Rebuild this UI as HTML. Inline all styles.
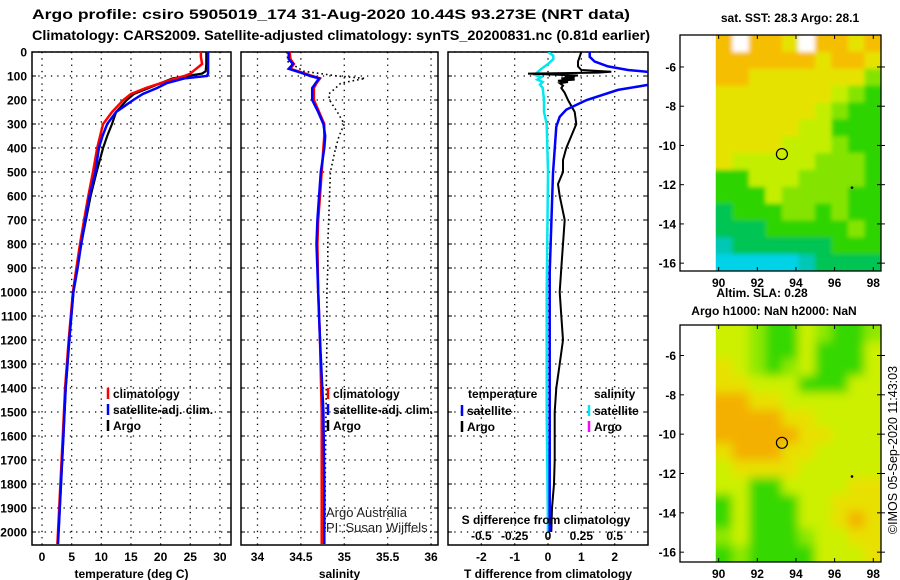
<!DOCTYPE html>
<html><head><meta charset="utf-8"><style>
html,body{margin:0;padding:0;background:#fff;}
svg{display:block;font-family:"Liberation Sans",Arial,sans-serif;}
.t{font-weight:bold;font-size:12px;fill:#000;}
.h{font-weight:bold;font-size:13.5px;fill:#000;}
</style></head><body>
<svg id="chart" width="900" height="580" viewBox="0 0 900 580" xmlns="http://www.w3.org/2000/svg">
<text class="h" x="32" y="19" textLength="598" lengthAdjust="spacingAndGlyphs">Argo profile: csiro 5905019_174 31-Aug-2020 10.44S 93.273E (NRT data)</text>
<text class="h" x="32" y="40" textLength="618" lengthAdjust="spacingAndGlyphs">Climatology: CARS2009. Satellite-adjusted climatology: synTS_20200831.nc (0.81d earlier)</text>
<g id="p1"></g>
<g id="p2"></g>
<g id="p3"></g>
<g id="m1"></g>
<g id="m2"></g>
<text class="t" x="790" y="22" text-anchor="middle">sat. SST: 28.3 Argo: 28.1</text>
<text class="t" x="762" y="297" text-anchor="middle">Altim. SLA: 0.28</text>
<text class="t" x="774" y="315" text-anchor="middle">Argo h1000: NaN h2000: NaN</text>
<text x="897" y="450" font-size="12.5" transform="rotate(-90 897 450)" text-anchor="middle">©IMOS 05-Sep-2020 11:43:03</text>
</svg>
<script>
// ---------- data ----------
const depthT = [0,20,50,80,90,100,110,130,150,175,200,250,300,350,400,500,600,700,800,900,1000,1200,1400,1600,1800,2000,2050];
const tempClim = [26.8,26.8,27.0,25.5,25.0,24.0,22.5,20.0,17.5,15.0,13.7,11.8,10.3,9.8,9.3,8.6,7.8,7.1,6.4,5.8,5.2,4.5,3.9,3.5,3.1,2.7,2.6];
const tempSat  = [28.0,28.0,28.0,28.0,28.0,27.8,24.0,21.0,19.4,17.0,15.4,12.5,11.0,10.2,9.6,9.0,8.0,7.3,6.6,6.0,5.3,4.6,4.0,3.6,3.2,2.8,2.7];
const depthArgoT = [0,20,50,80,90,100,110,130,150,175,200,250,300,350,400,500,600,700,800,900,1000,1200,1400,1600,1800,2000];
const tempArgo = [27.7,27.7,27.7,27.6,27.0,24.5,22.0,20.0,18.0,15.5,14.3,12.5,11.8,11.0,10.3,9.2,8.2,7.4,6.6,5.9,5.3,4.6,4.0,3.6,3.2,2.8];

const depthS = [0,30,50,70,90,100,110,130,150,200,250,300,350,400,500,600,700,800,1000,1200,1500,1800,2000,2050];
const salClim = [34.37,34.38,34.42,34.38,34.55,34.63,34.72,34.68,34.65,34.65,34.71,34.77,34.77,34.76,34.74,34.72,34.70,34.69,34.70,34.72,34.74,34.74,34.74,34.74];
const salSat  = [34.36,34.36,34.41,34.36,34.53,34.61,34.71,34.67,34.63,34.63,34.70,34.76,34.78,34.77,34.73,34.71,34.69,34.68,34.70,34.72,34.76,34.77,34.77,34.77];
const depthArgoS = [0,40,80,100,110,130,150,175,200,250,300,350,400,500,600,700,800,900,1000,1200,1500,1800,2000];
const salArgo = [34.34,34.35,34.53,34.92,35.24,34.96,34.90,34.82,34.83,34.92,35.0,34.94,34.90,34.84,34.83,34.82,34.81,34.81,34.80,34.80,34.79,34.78,34.78];

const depthDT = [0,20,40,60,75,82,86,90,94,98,102,106,110,115,120,125,130,140,150,170,200,250,300,350,400,450,500,550,600,700,800,900,1000,1100,1200,1300,1400,1500,1600,1700,1800,1900,2000];
const dTArgo = [1.0,0.95,0.9,0.9,1.0,1.9,1.5,-0.6,0.2,0.9,0.5,0.8,0.4,0.8,0.3,0.6,0.35,0.45,0.4,0.5,0.6,0.8,0.85,0.7,0.55,0.45,0.45,0.3,0.35,0.5,0.45,0.4,0.35,0.4,0.45,0.35,0.25,0.2,0.2,0.2,0.18,0.12,0.1];
const depthDTs = [0,20,40,60,75,83,90,110,137,158,200,240,270,311,505,920,1500,2000];
const dTSat = [1.25,1.25,1.4,1.8,2.4,3.0,3.6,3.8,3.0,2.1,1.16,0.55,0.35,0.25,0.15,0.05,0.05,0.05];
const depthDS = [0,15,30,50,70,85,95,105,115,125,135,150,200,250,300,500,1000,1500,2000];
const dSSat = [0.0,0.04,0.04,0.0,-0.05,-0.08,-0.1,-0.05,-0.08,-0.04,-0.06,-0.04,-0.03,-0.03,-0.01,0.0,-0.01,-0.01,0.0];

const depthTicks = [0,100,200,300,400,500,600,700,800,900,1000,1100,1200,1300,1400,1500,1600,1700,1800,1900,2000];
const tempTicks = [0,5,10,15,20,25,30];
const salTicks = [34,34.5,35,35.5,36];
const salTickLabels = ["34","34.5","35","35.5","36"];
const dTTicks = [-2,-1,0,1,2];
const dSTicks = [-0.5,-0.25,0,0.25,0.5];
const dSTickLabels = ["-0.5","-0.25","0","0.25","0.5"];

const lonTicks = [90,92,94,96,98];
const latTicks = [-6,-8,-10,-12,-14,-16];
const argoLon = 93.273, argoLat = -10.44;
// map colour grids (10 lon cols x 14 lat rows, north to south)
const sstGrid = ["owooywooyo","ooooooyooy","ooyyyyyyyg","yyyyyyylgG","yyyyyylgGG","yyyyyllGGG","yyyylllgGG","ylllllgggG","GGlllggggG","GGGlggggGG","dGGGggGgGG","dddGGGGGgG","tddddddGGG","ccccctdddd"];
const slaGrid = ["llgGGlgGGg","llgGGlGGGl","ylgGglGGGl","yylllGGGll","ooyylllll","ooooyyllll","oooooyylll","yoooyyllll","lyyyylllll","llGGllllyy","GlGGGllyyy","GlGGGllyoy","glGGGgllyy","GgGGGGllly"];
const sstColors = {o:"#f6be00",y:"#e6e200",l:"#c4ee00",g:"#84e400",G:"#2ed400",d:"#00c452",t:"#00c8b4",c:"#00d2e8",w:"#ffffff"};
const slaColors = {o:"#f4b000",y:"#e8e000",l:"#ccf000",g:"#8ee800",G:"#34d800"};

// ---------- helpers ----------
const NS="http://www.w3.org/2000/svg";
function mk(parent,tag,attrs){const e=document.createElementNS(NS,tag);for(const k in attrs)e.setAttribute(k,attrs[k]);parent.appendChild(e);return e;}
const Y0=52, Y1=545, DMAX=(Y1-Y0)/0.24;
function yD(d){return Y0+d/DMAX*(Y1-Y0);}
function makeX(x0,x1,vmin,vmax){return v=>x0+(v-vmin)/(vmax-vmin)*(x1-x0);}

function panelFrame(g,x0,x1,xs,ticks,labels,title,withDepthLabels){
  for(const v of ticks){
    const x=xs(v);
    const gl=mk(g,'line',{x1:x,y1:Y0,x2:x,y2:Y1,stroke:'#000','stroke-width':1.3,'stroke-dasharray':'1.3,5'});
    
    
  }
  for(const d of depthTicks){
    const y=yD(d);
    const gl=mk(g,'line',{x1:x0,y1:y,x2:x1,y2:y,stroke:'#000','stroke-width':1.3,'stroke-dasharray':'1.3,5'});
    
    
    mk(g,'line',{x1:x0,y1:y,x2:x0+4,y2:y,stroke:'#000','stroke-width':1});
    mk(g,'line',{x1:x1-4,y1:y,x2:x1,y2:y,stroke:'#000','stroke-width':1});
    if(withDepthLabels){
      const t=mk(g,'text',{x:x0-5,y:y+4.5,'text-anchor':'end',class:'t'});
      t.textContent=String(d);
      
      
    }
  }
  ticks.forEach((v,i)=>{
    const t=mk(g,'text',{x:xs(v),y:Y1+16,'text-anchor':'middle',class:'t'});
    t.textContent=labels[i];
    
    
  });
  if(title){
    const t=mk(g,'text',{x:(x0+x1)/2,y:Y1+33,'text-anchor':'middle',class:'t'});
    t.textContent=title;
    
    
  }
  const r=mk(g,'rect',{x:x0,y:Y0,width:x1-x0,height:Y1-Y0,fill:'none',stroke:'#000','stroke-width':1.5});
  
  
}
function series(g,xs,depths,vals,color,w,name,dash,clipId){
  let pts=depths.map((d,i)=>xs(vals[i]).toFixed(1)+','+yD(d).toFixed(1)).join(' ');
  const p=mk(g,'polyline',{points:pts,fill:'none',stroke:color,'stroke-width':w,'stroke-linejoin':'miter'});
  if(dash)p.setAttribute('stroke-dasharray',dash);
  if(clipId)p.setAttribute('clip-path','url(#'+clipId+')');
  
  
  return p;
}
function legendItem(g,x,y,color,label){
  const tk=mk(g,'line',{x1:x-5,y1:y-10,x2:x-5,y2:y+1,stroke:color,'stroke-width':2.5});
  
  
  const t=mk(g,'text',{x:x,y:y,class:'t'});
  t.textContent=label;
  
  
}
const svg=document.getElementById('chart');
const defs=mk(svg,'defs',{});
const cp=mk(defs,'clipPath',{id:'clip3'});
mk(cp,'rect',{x:448,y:Y0,width:200,height:Y1-Y0});

// ---------- panel 1 ----------
const g1=document.getElementById('p1');
const xT=makeX(32,231,-1.69,31.87);
panelFrame(g1,32,231,xT,tempTicks,tempTicks.map(String),'temperature (deg C)',true);
series(g1,xT,depthArgoT,tempArgo,'#000',2.2,'argo-temperature-line');
series(g1,xT,depthT,tempClim,'#f00',2.5,'climatology-temperature-line');
series(g1,xT,depthT,tempSat,'#00f',2.5,'satellite-temperature-line');
legendItem(g1,113,398,'#f00','climatology');
legendItem(g1,113,414,'#00f','satellite-adj. clim.');
legendItem(g1,113,430,'#000','Argo');

// ---------- panel 2 ----------
const g2=document.getElementById('p2');
const xS=makeX(241,438,33.81,36.08);
panelFrame(g2,241,438,xS,salTicks,salTickLabels,'salinity',false);
series(g2,xS,depthArgoS,salArgo,'#000',1.6,'argo-salinity-line','1.6,3');
series(g2,xS,depthS,salClim,'#f00',2.5,'climatology-salinity-line');
series(g2,xS,depthS,salSat,'#00f',2.5,'satellite-salinity-line');
legendItem(g2,333,398,'#f00','climatology');
legendItem(g2,333,414,'#00f','satellite-adj. clim.');
legendItem(g2,333,430,'#000','Argo');
{const t=mk(g2,'text',{x:326,y:517,'font-size':13,fill:'#222'});t.textContent='Argo Australia';


const t2=mk(g2,'text',{x:326,y:532,'font-size':13,fill:'#222'});t2.textContent='PI: Susan Wijffels';

}

// ---------- panel 3 ----------
const g3=document.getElementById('p3');
const xDT=makeX(448,648,-3.0,3.0);
const xDS=makeX(448,648,-0.75,0.75);
panelFrame(g3,448,648,xDT,dTTicks,dTTicks.map(String),'T difference from climatology',false);
series(g3,xDS,depthDS,dSSat,'#00e8f0',2.5,'satellite-salinity-diff-line',null,'clip3');
series(g3,xDT,depthDT,dTArgo,'#000',2,'argo-temperature-diff-line',null,'clip3');
series(g3,xDT,depthDTs,dTSat,'#00f',2.5,'satellite-temperature-diff-line',null,'clip3');
{const t=mk(g3,'text',{x:468,y:398,class:'t'});t.textContent='temperature';


const t2=mk(g3,'text',{x:594,y:398,class:'t'});t2.textContent='salinity';

}
legendItem(g3,467,415,'#00f','satellite');
legendItem(g3,467,431,'#000','Argo');
legendItem(g3,594,415,'#00e8f0','satellite');
legendItem(g3,594,431,'#f0f','Argo');
{const t=mk(g3,'text',{x:546,y:524,'text-anchor':'middle',class:'t'});t.textContent='S difference from climatology';


dSTicks.forEach((v,i)=>{const l=mk(g3,'text',{x:xDS(v),y:540,'text-anchor':'middle',class:'t'});l.textContent=dSTickLabels[i];

});}

// ---------- maps ----------
function drawMap(g,y0,y1,latTop,latBot,grid,colors,blur,id){
  const X0=680,X1=881,LON0=88.0,LON1=98.4;
  const xl=makeX(X0,X1,LON0,LON1);
  const yl=v=>y0+(latTop-v)/(latTop-latBot)*(y1-y0);
  const cpm=mk(defs,'clipPath',{id:'c'+id});
  const dx0=xl(89.85);
  mk(cpm,'rect',{x:dx0,y:y0,width:X1-dx0,height:y1-y0});
  if(blur){const f=mk(defs,'filter',{id:'f'+id,x:'-10%',y:'-10%',width:'120%',height:'120%'});
    mk(f,'feGaussianBlur',{stdDeviation:blur,edgeMode:'duplicate'});}
  const cg=mk(g,'g',{'clip-path':'url(#c'+id+')'});
  const inner=mk(cg,'g',blur?{filter:'url(#f'+id+')'}:{});
  const rows=grid.length, cols=grid[0].length;
  const cw=(X1-dx0)/cols, ch=(y1-y0)/rows;
  mk(inner,'rect',{x:dx0-10,y:y0-10,width:X1-dx0+20,height:y1-y0+20,fill:colors.l||'#ccf000'});
  for(let r=0;r<rows;r++)for(let c=0;c<cols;c++){
    const ch_=grid[r][c]||'l';
    const rc=mk(inner,'rect',{x:dx0+c*cw-(c==0?10:0),y:y0+r*ch-(r==0?10:0),width:cw+0.6+(c==0?10:0)+(c==cols-1?10:0),height:ch+0.6+(r==0?10:0)+(r==rows-1?10:0),fill:colors[ch_]||'#ccf000'});
    
    
  }
  lonTicks.forEach(v=>{const x=xl(v);mk(g,'line',{x1:x,y1:y0,x2:x,y2:y0+4,stroke:'#000'});mk(g,'line',{x1:x,y1:y1-4,x2:x,y2:y1,stroke:'#000'});
    const t=mk(g,'text',{x:x,y:y1+16,'text-anchor':'middle',class:'t'});t.textContent=String(v);
    
    });
  latTicks.forEach(v=>{const y=yl(v);mk(g,'line',{x1:X0,y1:y,x2:X0+4,y2:y,stroke:'#000'});mk(g,'line',{x1:X1-4,y1:y,x2:X1+4,y2:y,stroke:'#000'});
    const t=mk(g,'text',{x:X0-4,y:y+4.5,'text-anchor':'end',class:'t'});t.textContent=String(v);
    
    });
  const fr=mk(g,'rect',{x:X0,y:y0,width:X1-X0,height:y1-y0,fill:'none',stroke:'#000','stroke-width':1.3});
  
  
  const m=mk(g,'circle',{cx:xl(argoLon),cy:yl(argoLat),r:5.5,fill:'none',stroke:'#000','stroke-width':1.2});
  
  
  mk(g,'circle',{cx:xl(96.9),cy:yl(-12.15),r:1.3,fill:'#000'});
}
drawMap(document.getElementById('m1'),35,271,-4.37,-16.4,sstGrid,sstColors,2,'a');
drawMap(document.getElementById('m2'),325,562,-4.45,-16.5,slaGrid,slaColors,5,'b');
</script>
</body></html>
